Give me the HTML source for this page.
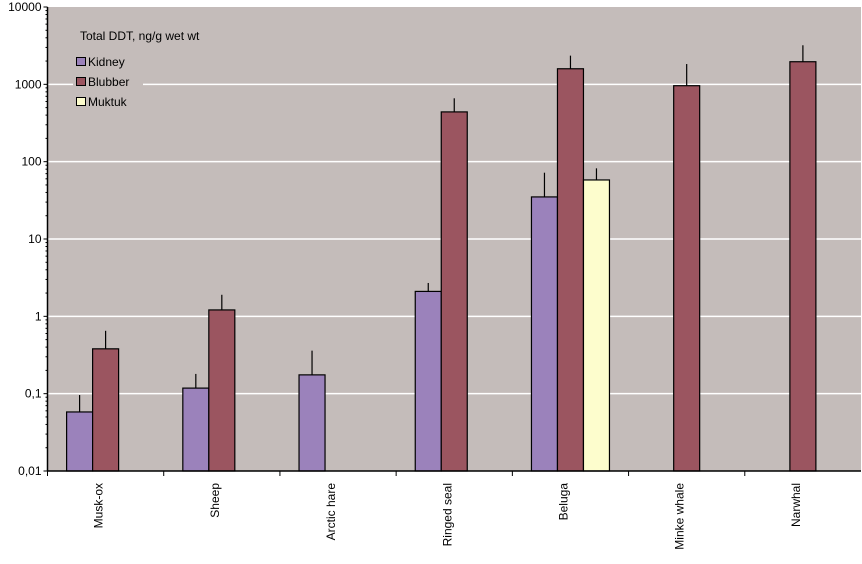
<!DOCTYPE html>
<html><head><meta charset="utf-8"><style>
body{margin:0;background:#fff;font-family:"Liberation Sans",Arial,sans-serif}
svg text{font-family:"Liberation Sans",Arial,sans-serif;font-size:12px;fill:#000}
</style></head><body>
<svg id="chart" width="862" height="559" xmlns="http://www.w3.org/2000/svg"></svg>
<script>
const categories=["Musk-ox","Sheep","Arctic hare","Ringed seal","Beluga","Minke whale","Narwhal"];
const kidney=[0.058,0.118,0.175,2.1,35,null,null];
const kidneyErr=[0.096,0.18,0.36,2.7,72,null,null];
const blubber=[0.38,1.21,null,440,1590,960,1960];
const blubberErr=[0.65,1.9,null,660,2350,1830,3200];
const muktuk=[null,null,null,null,58,null,null];
const muktukErr=[null,null,null,null,82,null,null];
const yTicks=[10000,1000,100,10,1,0.1,0.01];
const yTickLabels=["10000","1000","100","10","1","0,1","0,01"];

const NS="http://www.w3.org/2000/svg";
const svg=document.getElementById('chart');
const L=47.5,R=861,T=7,B=471;
const groupW=(R-L)/categories.length;
function y(v){return B-(Math.log10(v)+2)/6*(B-T);}
function mk(tag,attrs,parent){const e=document.createElementNS(NS,tag);for(const k in attrs)e.setAttribute(k,attrs[k]);(parent||svg).appendChild(e);return e;}
const bg=mk('rect',{x:L,y:T,width:R-L,height:B-T,fill:'#c4bcba'});


yTicks.forEach((v,i)=>{
  if(v<10000&&v>0.01){const g=mk('line',{x1:L,x2:R,y1:y(v),y2:y(v),stroke:'#fff','stroke-width':1.5});
  
  }
  const t=mk('text',{x:L-6,y:y(v)+4,'text-anchor':'end'});t.textContent=yTickLabels[i];
  
  
  mk('line',{x1:L-4,x2:L,y1:y(v),y2:y(v),stroke:'#000'});
  if(v<10000){for(let m=2;m<=9;m++){const yy=y(v*m);mk('line',{x1:L-2,x2:L,y1:yy,y2:yy,stroke:'#000'});}}
});
// legend (drawn before/over grid)
const lg=mk('g',{});


mk('rect',{x:73,y:58,width:70,height:58,fill:'#c4bcba'},lg);
const lt=mk('text',{x:80,y:40},lg);lt.textContent="Total DDT, ng/g wet wt";


[["Kidney","#9b82bb"],["Blubber","#9b5560"],["Muktuk","#fdfdcd"]].forEach((s,i)=>{
  const r=mk('rect',{x:76.5,y:57.5+i*20,width:9,height:8,fill:s[1],stroke:'#000'},lg);
  
  
  const t=mk('text',{x:88,y:66+i*20},lg);t.textContent=s[0];
  
  
});
const series=[[kidney,kidneyErr,'#9b82bb','kidney'],[blubber,blubberErr,'#9b5560','blubber'],[muktuk,muktukErr,'#fdfdcd','muktuk']];
const bw=26,pad=(groupW-3*bw)/2;
categories.forEach((c,i)=>{
  const gx=L+i*groupW;
  series.forEach((s,j)=>{
    const v=s[0][i];if(v==null)return;
    const x=gx+pad+j*bw;
    const e=s[1][i];
    if(e!=null){mk('line',{x1:x+bw/2,x2:x+bw/2,y1:y(e),y2:y(v),stroke:'#000','stroke-width':1.2});}
    const b=mk('rect',{x:x,y:y(v),width:bw,height:B-y(v),fill:s[2],stroke:'#000','stroke-width':1.2});
    
    
  });
  mk('line',{x1:gx,x2:gx,y1:B,y2:B+5,stroke:'#000'});
  const t=mk('text',{x:0,y:0,'text-anchor':'end',transform:`translate(${gx+groupW/2-7+4},${B+12}) rotate(-90)`});
  t.textContent=c;
  
  
});
mk('line',{x1:L,x2:L,y1:T,y2:B,stroke:'#000','stroke-width':1.5});
mk('line',{x1:L,x2:R,y1:B,y2:B,stroke:'#000','stroke-width':1.5});
</script>
</body></html>
